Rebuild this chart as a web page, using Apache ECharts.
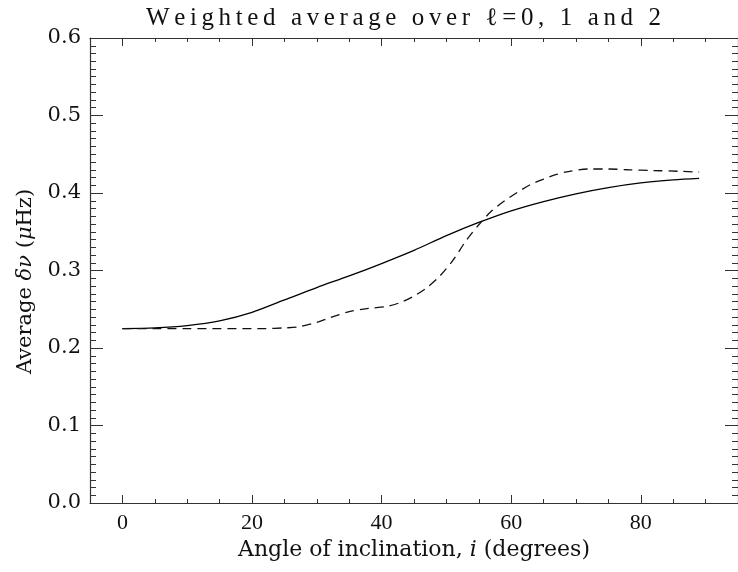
<!DOCTYPE html>
<html>
<head>
<meta charset="utf-8">
<script src="https://cdn.jsdelivr.net/npm/echarts@6/dist/echarts.min.js"></script>
<style>
  html, body { margin: 0; padding: 0; background: #fff; }
  #chart { width: 738px; height: 572px; }
</style>
</head>
<body>
<div id="chart"></div>
<script>
// Inclination angle (degrees) sampled for each curve
const solidAngles = [0, 5, 10, 15, 20, 25, 30, 35, 40, 45, 50, 55, 60, 65, 70, 75, 80, 85, 89];
const solidValues = [0.225, 0.226, 0.229, 0.235, 0.246, 0.262, 0.278, 0.293, 0.309, 0.326, 0.345, 0.362, 0.377, 0.389, 0.399, 0.407, 0.413, 0.417, 0.419];

const dashedAngles = [0, 5, 10, 15, 20, 22, 25, 27, 30, 32, 35, 38, 41, 43, 45, 47, 49, 51, 53, 55, 57, 59, 61, 63, 65, 67, 69, 72, 75, 78, 82, 86, 89];
const dashedValues = [0.225, 0.225, 0.225, 0.225, 0.225, 0.225, 0.226, 0.227, 0.233, 0.239, 0.247, 0.251, 0.254, 0.259, 0.267, 0.278, 0.293, 0.313, 0.338, 0.359, 0.377, 0.390, 0.401, 0.411, 0.418, 0.424, 0.428, 0.431, 0.431, 0.430, 0.429, 0.428, 0.427];

// Axis ticks
const xMajorTicks = [0, 20, 40, 60, 80];
const xMinorTicks = [5, 10, 15, 25, 30, 35, 45, 50, 55, 65, 70, 75, 85, 90];

const titleText = 'Weighted average over \u2113=0, 1 and 2';

const pair = (xs, ys) => xs.map((x, i) => [x, ys[i]]);

const AX = '#333';
const serif = 'Liberation Serif';

// Letter-spaced title: every glyph gets its own cell, widened by a fixed gap
const TITLE_SIZE = 25;
const TITLE_SPAN = 515;
const titleFont = TITLE_SIZE + 'px "' + serif + '"';
const measureCtx = document.createElement('canvas').getContext('2d');
measureCtx.font = titleFont;
const glyphs = titleText.split('');
const advances = glyphs.map(c => measureCtx.measureText(c).width);
const natural = advances.reduce((a, b) => a + b, 0);
const gap = (TITLE_SPAN - natural) / (glyphs.length - 1);
const titleRichStyles = {};
const titleRich = glyphs.map((c, i) => {
  const key = 'g' + i;
  titleRichStyles[key] = {
    width: advances[i] + (i < glyphs.length - 1 ? gap : 0), align: 'left',
    fontFamily: serif, fontSize: TITLE_SIZE, fontWeight: 'normal', color: '#111'
  };
  return '{' + key + '|' + c + '}';
}).join('');

function xAxisDef(position, ticks, len, showLine, showLabels) {
  return {
    type: 'value', position: position, min: -5, max: 95,
    axisLine: { show: showLine, onZero: false, lineStyle: { color: AX, width: 1.2 } },
    axisTick: { show: true, inside: true, length: len, customValues: ticks, lineStyle: { color: AX, width: 1 } },
    axisLabel: showLabels ? {
      show: true, customValues: xMajorTicks, margin: 9,
      color: '#111', fontFamily: serif, fontSize: 22
    } : { show: false },
    splitLine: { show: false }
  };
}

function yAxisDef(position, showLabels) {
  return {
    type: 'value', position: position, min: 0, max: 0.6, interval: 0.1,
    axisLine: { show: true, onZero: false, lineStyle: { color: AX, width: 1.2 } },
    axisTick: { show: true, inside: true, length: 13, lineStyle: { color: AX, width: 1 } },
    minorTick: { show: true, splitNumber: 10, length: 6, lineStyle: { color: AX, width: 1 } },
    axisLabel: showLabels ? {
      show: true, margin: 9, color: '#111', fontFamily: 'DejaVu Serif', fontSize: 21,
      formatter: v => v.toFixed(1)
    } : { show: false },
    splitLine: { show: false }
  };
}

function nameRich(size) {
  return {
    n: { fontFamily: 'DejaVu Serif', fontSize: size, color: '#111' },
    it: { fontFamily: 'DejaVu Serif', fontStyle: 'italic', fontSize: size, color: '#111' }
  };
}

const xBottom = xAxisDef('bottom', xMajorTicks, 8, true, true);
xBottom.name = '{n|Angle of inclination, }{it|i}{n| (degrees)}';
xBottom.nameLocation = 'middle';
xBottom.nameGap = 35;
xBottom.nameTextStyle = { rich: nameRich(22) };

const yLeft = yAxisDef('left', true);
yLeft.name = '{n|Average }{it|\u03b4\u03bd}{n| (}{it|\u03bc}{n|Hz)}';
yLeft.nameLocation = 'middle';
yLeft.nameGap = 54;
yLeft.nameTextStyle = { rich: nameRich(21), padding: [0, 22, 0, 0] };

const chart = echarts.init(document.getElementById('chart'), null, { renderer: 'canvas' });
chart.setOption({
  animation: false,
  backgroundColor: '#fff',
  title: {
    text: titleRich,
    left: 141, top: 1,
    textStyle: { fontWeight: 'normal', rich: titleRichStyles }
  },
  grid: { left: 90, right: -8, top: 38, bottom: 69, containLabel: false },
  xAxis: [
    xBottom,
    xAxisDef('bottom', xMinorTicks, 4, false, false),
    xAxisDef('top', xMajorTicks, 8, true, false),
    xAxisDef('top', xMinorTicks, 4, false, false)
  ],
  yAxis: [yLeft, yAxisDef('right', false)],
  series: [
    {
      type: 'line', xAxisIndex: 0, yAxisIndex: 0,
      data: pair(solidAngles, solidValues),
      smooth: 0.3, showSymbol: false,
      lineStyle: { color: '#000', width: 1.3 }
    },
    {
      type: 'line', xAxisIndex: 0, yAxisIndex: 0,
      data: pair(dashedAngles, dashedValues),
      smooth: 0.3, showSymbol: false,
      lineStyle: { color: '#111', width: 1.3, type: [9, 6] }
    }
  ]
});
</script>
</body>
</html>
